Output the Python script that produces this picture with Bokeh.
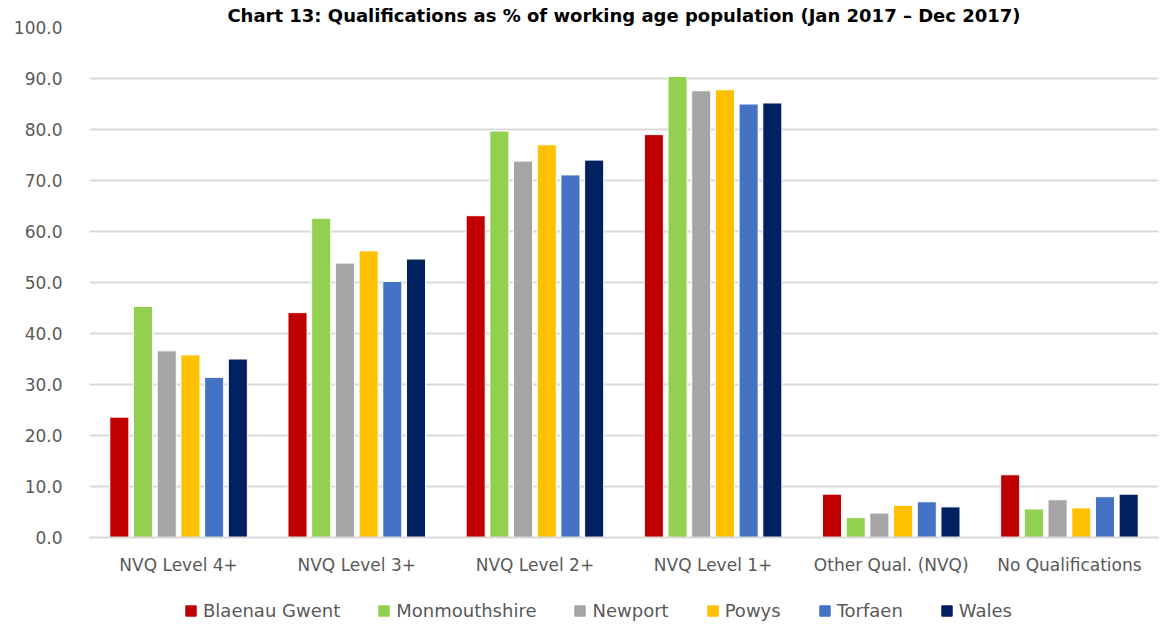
from bokeh.plotting import figure
from bokeh.layouts import column
from bokeh.models import (ColumnDataSource, Legend, LegendItem, SingleIntervalTicker,
                          NumeralTickFormatter, Title, Range1d, FactorRange)
from bokeh.transform import dodge
from bokeh.embed import file_html
from bokeh.resources import INLINE

categories = ["NVQ Level 4+", "NVQ Level 3+", "NVQ Level 2+", "NVQ Level 1+",
              "Other Qual. (NVQ)", "No Qualifications"]
series_names = ["Blaenau Gwent", "Monmouthshire", "Newport", "Powys", "Torfaen", "Wales"]
blaenau_gwent = [23.6, 44.1, 63.1, 79.0, 8.5, 12.3]
monmouthshire = [45.3, 62.6, 79.7, 90.4, 3.9, 5.6]
newport = [36.6, 53.8, 73.8, 87.6, 4.8, 7.4]
powys = [35.8, 56.2, 77.0, 87.8, 6.3, 5.8]
torfaen = [31.4, 50.2, 71.1, 85.0, 7.0, 8.0]
wales = [35.0, 54.6, 74.0, 85.2, 6.0, 8.5]
colors = ["#C00000", "#92D050", "#A5A5A5", "#FFC000", "#4472C4", "#002060"]

series = [blaenau_gwent, monmouthshire, newport, powys, torfaen, wales]
src = ColumnDataSource(dict(cat=categories, s0=series[0], s1=series[1], s2=series[2],
                            s3=series[3], s4=series[4], s5=series[5]))

FONT = "DejaVu Sans"
GREY = "#595959"
W = 1166

p = figure(x_range=categories, y_range=(0, 100), width=W, height=588,
           output_backend="svg", toolbar_location=None,
           min_border_left=89, min_border_right=W - 1158, min_border_top=4, min_border_bottom=51)
p.title = Title(text="Chart 13: Qualifications as % of working age population (Jan 2017 \u2013 Dec 2017)",
                align="center", text_font=FONT, text_font_size="18px", text_font_style="bold",
                text_color="black", standoff=4, offset=0)

pitch = 0.133
width = 0.107
for i, name in enumerate(series_names):
    off = (i - 2.5) * pitch
    p.vbar(x=dodge("cat", off, range=p.x_range), top="s%d" % i, width=width,
           source=src, fill_color=colors[i], line_color="white", line_width=1)

p.yaxis.ticker = SingleIntervalTicker(interval=10)
p.yaxis.formatter = NumeralTickFormatter(format="0.0")
p.yaxis.axis_line_color = None
p.yaxis.major_tick_line_color = None
p.yaxis.minor_tick_line_color = None
p.yaxis.major_label_text_font = FONT
p.yaxis.major_label_text_font_size = "17px"
p.yaxis.major_label_text_color = GREY
p.yaxis.major_label_standoff = 21

p.xaxis.axis_line_color = "#D9D9D9"
p.xaxis.axis_line_width = 2
p.xaxis.major_tick_line_color = None
p.xaxis.minor_tick_line_color = None
p.xaxis.major_label_text_font = FONT
p.xaxis.major_label_text_font_size = "17px"
p.xaxis.major_label_text_color = GREY
p.xaxis.major_label_standoff = 11

p.xgrid.grid_line_color = None
p.ygrid.grid_line_color = "#D9D9D9"
p.ygrid.grid_line_width = 2
p.outline_line_color = None
p.x_range.range_padding = 0

# legend strip below the chart: same bars, y range set so none are in view
lg = figure(width=W, height=44, output_backend="svg", toolbar_location=None,
            x_range=FactorRange(*categories), y_range=Range1d(1000, 1001),
            min_border_left=0, min_border_right=0, min_border_top=0, min_border_bottom=0)
lg.axis.visible = False
lg.grid.visible = False
lg.outline_line_color = None
dummies = []
for i, name in enumerate(series_names):
    r = lg.vbar(x="cat", top="s%d" % i, width=0.1, source=src,
                fill_color=colors[i], line_color=colors[i])
    dummies.append(r)
legend = Legend(items=[LegendItem(label=n, renderers=[r]) for n, r in zip(series_names, dummies)],
                orientation="horizontal", location=(95, 11),
                label_text_font=FONT, label_text_font_size="18px", label_text_color=GREY,
                glyph_width=13, glyph_height=13, spacing=37, label_standoff=6,
                border_line_color=None, background_fill_alpha=0, margin=0, padding=4)
lg.add_layout(legend, "center")

layout = column(p, lg, spacing=0)
open("out.html", "w").write(file_html(layout, INLINE))
